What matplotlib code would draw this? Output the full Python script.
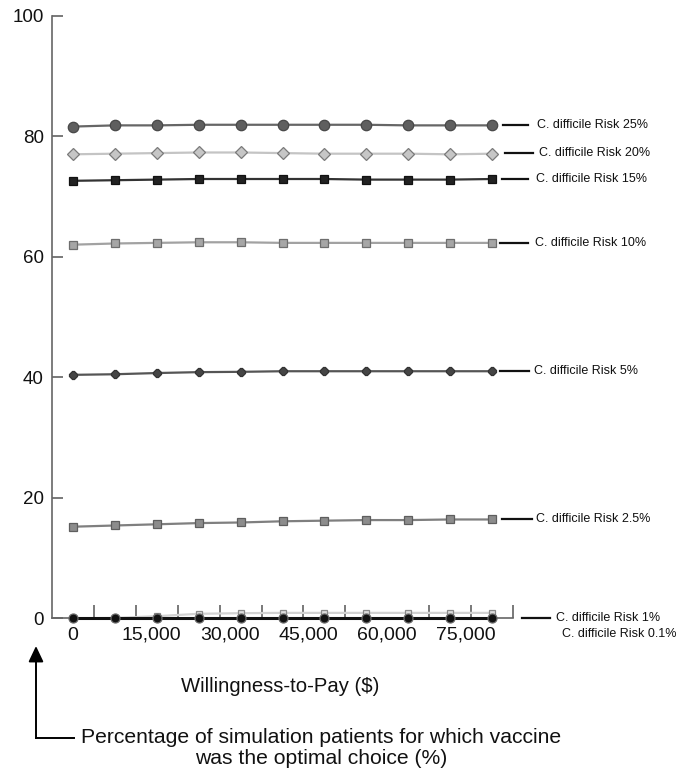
import matplotlib
matplotlib.use("Agg")
import matplotlib.pyplot as plt
import numpy as np

plt.rcParams['font.family'] = ['Liberation Sans', 'DejaVu Sans']

# willingness-to-pay grid ($)
wtp = [0, 8000, 16000, 24000, 32000, 40000, 48000, 56000, 64000, 72000, 80000]
x_tick_vals = [0, 15000, 30000, 45000, 60000, 75000]
x_tick_labels = ["0", "15,000", "30,000", "45,000", "60,000", "75,000"]
y_tick_vals = [0, 20, 40, 60, 80, 100]

# % of simulated patients for whom vaccine was optimal
risk_25 = [81.6, 81.8, 81.8, 81.9, 81.9, 81.9, 81.9, 81.9, 81.8, 81.8, 81.8]
risk_20 = [77.0, 77.1, 77.2, 77.3, 77.3, 77.2, 77.1, 77.1, 77.1, 77.0, 77.1]
risk_15 = [72.6, 72.7, 72.8, 72.9, 72.9, 72.9, 72.9, 72.8, 72.8, 72.8, 72.9]
risk_10 = [62.0, 62.2, 62.3, 62.4, 62.4, 62.3, 62.3, 62.3, 62.3, 62.3, 62.3]
risk_5 = [40.4, 40.5, 40.7, 40.85, 40.9, 41.0, 41.0, 41.0, 41.0, 41.0, 41.0]
risk_2_5 = [15.2, 15.4, 15.6, 15.8, 15.9, 16.1, 16.2, 16.3, 16.3, 16.4, 16.4]
risk_1 = [0.0, 0.05, 0.35, 0.75, 0.85, 0.9, 0.9, 0.9, 0.9, 0.9, 0.9]
risk_0_1 = [0.0, 0.0, 0.0, 0.0, 0.0, 0.0, 0.0, 0.0, 0.0, 0.0, 0.0]

labels = ["C. difficile Risk 25%", "C. difficile Risk 20%", "C. difficile Risk 15%",
          "C. difficile Risk 10%", "C. difficile Risk 5%", "C. difficile Risk 2.5%",
          "C. difficile Risk 1%", "C. difficile Risk 0.1%"]

# (marker, size, face, edge, line colour, line width)
styles = [
    ('o', 7.5, '#5f5f5f', '#484848', '#666666', 1.6),
    ('D', 6.0, '#c6c6c6', '#7a7a7a', '#c4c4c4', 1.6),
    ('s', 5.5, '#222222', '#111111', '#333333', 1.6),
    ('s', 5.5, '#a6a6a6', '#6e6e6e', '#a2a2a2', 1.6),
    ('8', 5.5, '#454545', '#333333', '#555555', 1.6),
    ('s', 5.5, '#8c8c8c', '#5e5e5e', '#7f7f7f', 1.6),
    ('s', 5.0, '#dedede', '#8a8a8a', '#d2d2d2', 1.6),
    ('o', 6.5, '#111111', '#6a6a6a', '#111111', 2.2),
]
# label placement relative to last point, pixels: dash start, dash end, text x, dy (down)
label_offsets = [
    (11, 36, 45, 0), (13, 41, 47, -1), (10, 36, 44, 0), (8, 36, 43, 0),
    (8, 37, 42, 0), (10, 40, 44, 0), (30, 58, 64, 5), (None, None, 70, 16),
]

series = [risk_25, risk_20, risk_15, risk_10, risk_5, risk_2_5, risk_1, risk_0_1]

W, H = 676, 775
fig = plt.figure(figsize=(W / 100, H / 100), dpi=100)
ax = fig.add_axes([52 / W, 1 - 618.3 / H, 461 / W, 602.6 / H])
ax.set_xlim(-4000, 84000)
ax.set_ylim(0, 100)

for i in range(len(series)):
    m, ms, fc, ec, lc, lw = styles[i]
    ax.plot(wtp, series[i], color=lc, linewidth=lw, marker=m, markersize=ms,
            markerfacecolor=fc, markeredgecolor=ec, markeredgewidth=0.9,
            clip_on=False, zorder=3 + i)

# pixel offsets -> data units (axes geometry is fixed)
to_data = ax.transData.inverted()
for i, lab in enumerate(labels):
    d0, d1, tx, dy = label_offsets[i]
    px, py = ax.transData.transform((wtp[-1], series[i][-1]))
    py -= dy
    if d0 is not None:
        (xa, ya), (xb, yb) = to_data.transform([(px + d0, py), (px + d1, py)])
        ax.plot([xa, xb], [ya, yb], color='#111111', linewidth=1.6, clip_on=False)
    xt, yt = to_data.transform((px + tx, py))
    ax.text(xt, yt, lab, ha='left', va='center', fontsize=9, color='#111111',
            clip_on=False)

ax.set_xticks(x_tick_vals)
ax.set_xticklabels(x_tick_labels)
ax.set_xticks(np.arange(4000, 84001, 8000), minor=True)
ax.set_yticks(y_tick_vals)
ax.tick_params(axis='x', which='major', length=0, pad=6, labelsize=14, colors='#111111')
ax.tick_params(axis='x', which='minor', direction='in', length=9.5, width=1.1, color='#555555')
ax.tick_params(axis='y', direction='in', length=8, width=1.1, color='#555555',
               pad=6, labelsize=13.5, labelcolor='#111111')

for s in ['top', 'right']:
    ax.spines[s].set_visible(False)
for s in ['left', 'bottom']:
    ax.spines[s].set_color('#666666')
    ax.spines[s].set_linewidth(1.2)

fig.text(280 / W, 1 - 686 / H, "Willingness-to-Pay ($)", ha='center', va='center',
         fontsize=14.6, color='#111111')

# y-axis description with bent arrow
fig.add_artist(plt.Line2D([36 / W, 74 / W], [1 - 738 / H, 1 - 738 / H], color='black',
                          linewidth=1.4, transform=fig.transFigure))
fig.add_artist(plt.Line2D([36 / W, 36 / W], [1 - 738 / H, 1 - 655 / H], color='black',
                          linewidth=1.4, transform=fig.transFigure))
ax.annotate("", xy=(36 / W, 1 - 646 / H), xycoords='figure fraction',
            xytext=(36 / W, 1 - 662 / H), textcoords='figure fraction',
            arrowprops=dict(arrowstyle='-|>,head_width=0.45,head_length=0.95',
                            color='black', linewidth=1.4, mutation_scale=10,
                            shrinkA=0, shrinkB=0))
fig.text(321 / W, 1 - 748 / H,
         "Percentage of simulation patients for which vaccine\nwas the optimal choice (%)",
         ha='center', va='center', fontsize=15.2, linespacing=1.1, color='#111111')

fig.savefig("out.png", dpi=100)
